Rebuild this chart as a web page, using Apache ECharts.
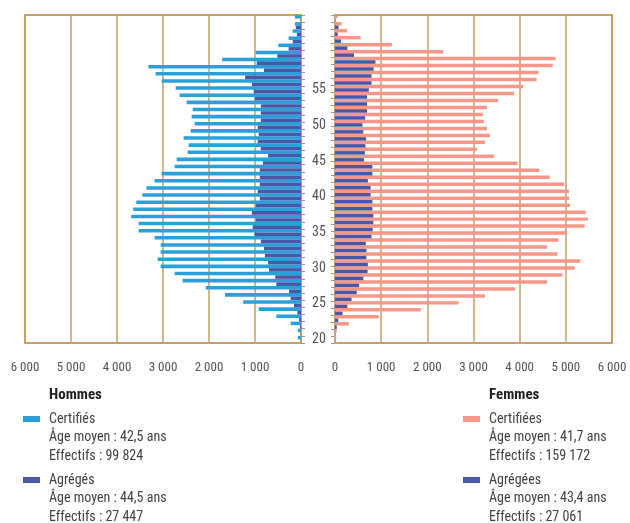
<!DOCTYPE html>
<html><head><meta charset="utf-8">
<script src="https://cdn.jsdelivr.net/npm/echarts@6/dist/echarts.min.js"></script>
<style>html,body{margin:0;padding:0;background:#fff}#c{width:630px;height:523px}</style>
</head><body><div id="c"></div>
<script>
// Ages (catégories)
const agesHommes = [20,21,22,23,24,25,26,27,28,29,30,31,32,33,34,35,36,37,38,39,40,41,42,43,44,45,46,47,48,49,50,51,52,53,54,55,56,57,58,59,60,61,62,63,64,65];
const agesFemmes = [20,21,22,23,24,25,26,27,28,29,30,31,32,33,34,35,36,37,38,39,40,41,42,43,44,45,46,47,48,49,50,51,52,53,54,55,56,57,58,59,60,61,62,63,64,65,66];

// Hommes (20 -> 65)
const certifiesHommes = [67,67,224,537,918,1257,1653,2072,2572,2746,3051,3118,3051,3051,3184,3529,3529,3691,3647,3581,3449,3360,3184,3029,2746,2703,2464,2442,2551,2399,2312,2377,2355,2486,2638,2725,3029,3162,3316,1715,985,493,269,179,134,134];
const agregesHommes = [0,0,20,43,80,152,224,260,537,560,694,716,784,806,873,1007,1049,985,1069,985,896,940,896,896,896,828,716,873,940,918,940,873,873,873,1007,1028,1069,1215,806,963,515,269,179,90,112,0];

// Femmes (20 -> 66)
const certifieesFemmes = [26,39,301,948,1858,2676,3248,3905,4593,4924,5195,5313,4821,4593,4841,5031,5406,5477,5430,5090,5069,5069,4966,4655,4428,3949,3445,3073,3248,3358,3292,3226,3204,3292,3533,3883,4076,4366,4407,4717,4779,2346,1231,556,261,144,59];
const agregeesFemmes = [0,0,39,72,163,268,359,471,523,614,706,712,680,680,667,791,817,830,830,810,810,771,771,712,810,810,627,647,660,673,614,595,654,693,693,693,732,791,791,837,876,412,268,131,59,78,0];

// Axe des effectifs
const xMin = 0, xMax = 6000, xStep = 1000;
const ageLabels = [20,25,30,35,40,45,50,55];

// Légendes
const legendHommesTitle = 'Hommes';
const legendHommesCertifies = ['Certifiés', 'Âge moyen : 42,5 ans', 'Effectifs : 99 824'];
const legendHommesAgreges = ['Agrégés', 'Âge moyen : 44,5 ans', 'Effectifs : 27 447'];
const legendFemmesTitle = 'Femmes';
const legendFemmesCertifiees = ['Certifiées', 'Âge moyen : 41,7 ans', 'Effectifs : 159 172'];
const legendFemmesAgregees = ['Agrégées', 'Âge moyen : 43,4 ans', 'Effectifs : 27 061'];

const C_CERT_H = '#2a9fd8', C_AGR = '#4858a6', C_CERT_F = '#f5988a';
const FRAME = '#c79f68';
const FONT = "'Liberation Sans Narrow','Arial Narrow','Roboto Condensed','Liberation Sans',sans-serif";

function fmt(v){ return String(v).replace(/\B(?=(\d{3})+(?!\d))/g, ' '); }

function xAxisFor(idx, inverse){
  return {gridIndex: idx, type:'value', min:xMin, max:xMax, interval:xStep, inverse: inverse,
    axisLine:{show:false}, axisTick:{show:false},
    splitLine:{show:true, lineStyle:{color:FRAME, width:1.5}},
    axisLabel:{formatter: fmt, margin:18, fontSize:13, color:'#555', fontFamily:FONT}};
}

function legendBlock(x, title, items, colors){
  const els = [];
  els.push({type:'text', left:x, top:388, style:{text:title, font:'bold 15px '+FONT, fill:'#222'}});
  const starts = [413, 474];
  items.forEach((lines, k) => {
    const y0 = starts[k];
    els.push({type:'rect', shape:{x:x-26, y:y0+3, width:17, height:6}, style:{fill:colors[k]}});
    lines.forEach((t, j) => {
      els.push({type:'text', left:x, top:y0 + j*18.5 - 1, style:{text:t, font:'14px '+FONT, fill:'#444'}});
    });
  });
  return els;
}

const chart = echarts.init(document.getElementById('c'), null, {renderer:'canvas'});
chart.setOption({
  animation:false,
  grid:[
    {left:25, top:15, width:276, height:328, show:true, borderColor:FRAME, borderWidth:2, containLabel:false},
    {left:335, top:15, width:277, height:328, show:true, borderColor:FRAME, borderWidth:2, containLabel:false}
  ],
  xAxis:[ xAxisFor(0, true), xAxisFor(1, false) ],
  yAxis:[
    {gridIndex:0, type:'category', data:agesHommes, position:'right',
     axisLine:{show:false},
     axisTick:{show:true, interval:0, length:4, lineStyle:{color:'#999'}},
     splitLine:{show:false},
     axisLabel:{show:true, margin:11, fontSize:14, color:'#555', fontFamily:FONT,
       interval:(i, v) => ageLabels.indexOf(Number(v)) >= 0}},
    {gridIndex:1, type:'category', data:agesFemmes, position:'left',
     axisLine:{show:false},
     axisTick:{show:true, interval:0, length:4, lineStyle:{color:'#999'}},
     splitLine:{show:false},
     axisLabel:{show:false}}
  ],
  series:[
    {type:'bar', name:'Certifiés', xAxisIndex:0, yAxisIndex:0, data:certifiesHommes, itemStyle:{color:C_CERT_H}, barGap:'0%', barCategoryGap:'0%', silent:true},
    {type:'bar', name:'Agrégés', xAxisIndex:0, yAxisIndex:0, data:agregesHommes, itemStyle:{color:C_AGR}, barGap:'0%', barCategoryGap:'0%', silent:true},
    {type:'bar', name:'Certifiées', xAxisIndex:1, yAxisIndex:1, data:certifieesFemmes, itemStyle:{color:C_CERT_F}, barGap:'0%', barCategoryGap:'0%', silent:true},
    {type:'bar', name:'Agrégées', xAxisIndex:1, yAxisIndex:1, data:agregeesFemmes, itemStyle:{color:C_AGR}, barGap:'0%', barCategoryGap:'0%', silent:true}
  ],
  graphic: [].concat(
    legendBlock(49, legendHommesTitle, [legendHommesCertifies, legendHommesAgreges], [C_CERT_H, C_AGR]),
    legendBlock(489, legendFemmesTitle, [legendFemmesCertifiees, legendFemmesAgregees], [C_CERT_F, C_AGR])
  )
});
</script></body></html>
